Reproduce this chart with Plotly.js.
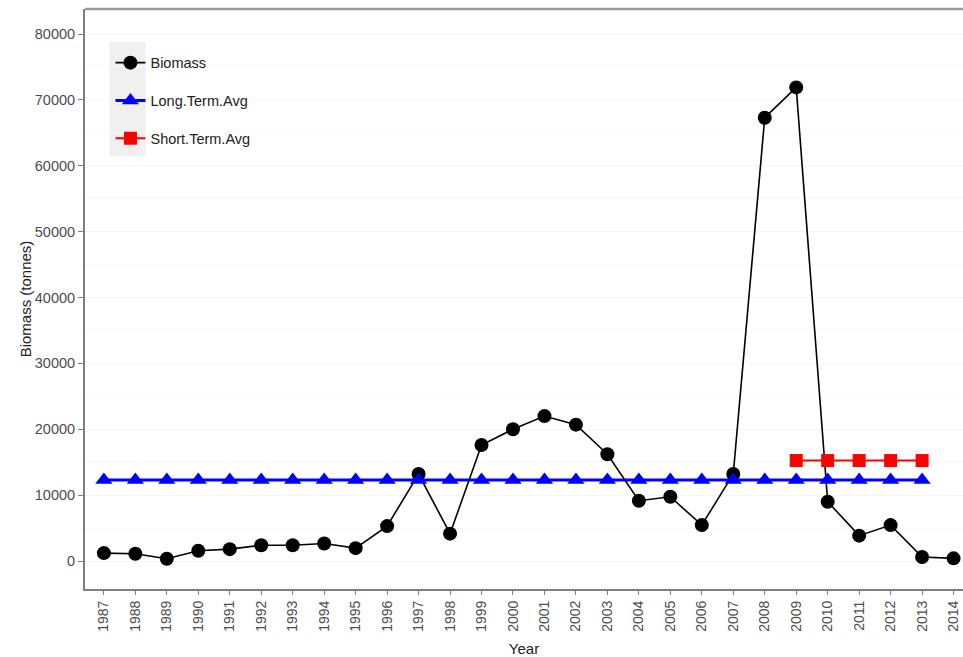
<!DOCTYPE html>
<html>
<head>
<meta charset="utf-8">
<script src="https://cdn.plot.ly/plotly-3.0.1.min.js"></script>
<style>html,body{margin:0;padding:0;background:#fff;}#chart{width:963px;height:657px;}</style>
</head>
<body>
<div id="chart"></div>
<script>
const years = [1987,1988,1989,1990,1991,1992,1993,1994,1995,1996,1997,1998,1999,2000,2001,2002,2003,2004,2005,2006,2007,2008,2009,2010,2011,2012,2013,2014];
const biomass = [1200,1100,350,1550,1800,2400,2400,2650,1950,5300,13200,4150,17600,20000,22000,20700,16200,9150,9750,5450,13200,67300,71900,9000,3850,5450,600,400];
const longYears = years.slice(0, 27);
const longAvg = longYears.map(() => 12300);
const shortYears = [2009,2010,2011,2012,2013];
const shortAvg = shortYears.map(() => 15250);
const yTicks = [0,10000,20000,30000,40000,50000,60000,70000,80000];
const yTickText = ['0','10000','20000','30000','40000','50000','60000','70000','80000'];

const traces = [
  {x: years, y: biomass, name: 'Biomass', mode: 'lines+markers', legendgroup: 'a',
   line: {color: '#000000', width: 1.6}, marker: {symbol: 'circle', size: 14, color: '#000000'}},
  {x: longYears, y: longAvg, name: 'Long.Term.Avg', mode: 'lines+markers', legendgroup: 'b',
   line: {color: '#0000ff', width: 3}, marker: {symbol: 'triangle-up', size: 15, color: '#0000ff'}},
  {x: shortYears, y: shortAvg, name: 'Short.Term.Avg', mode: 'lines+markers', legendgroup: 'c',
   line: {color: '#ff0000', width: 2}, marker: {symbol: 'square', size: 13, color: '#ff0000'}}
];

const layout = {
  width: 963, height: 657,
  margin: {l: 85, r: 0, t: 9, b: 68},
  paper_bgcolor: '#ffffff', plot_bgcolor: '#ffffff',
  font: {family: 'Liberation Sans, Arial, sans-serif', size: 14.5, color: '#4d4d4d'},
  showlegend: true,
  legend: {x: 0.029, y: 0.935, xanchor: 'left', yanchor: 'top', bgcolor: 'rgba(0,0,0,0)',
           traceorder: 'grouped', tracegroupgap: 16, font: {size: 14.5, color: '#222222'}},
  xaxis: {range: [1986.4, 2014.3], tickmode: 'array', tickvals: years, ticktext: years.map(String),
          tickangle: -90, ticks: 'outside', ticklen: 4, tickcolor: '#7f7f7f', showgrid: false,
          showline: true, linecolor: '#7f7f7f', linewidth: 2, zeroline: false,
          tickfont: {size: 14, color: '#4d4d4d'}, automargin: false,
          title: {text: 'Year', font: {size: 15, color: '#222222'}, standoff: 13}},
  yaxis: {range: [-4250, 83800], tickmode: 'array', tickvals: yTicks, ticktext: yTickText, ticks: 'outside', ticklen: 5,
          tickcolor: '#7f7f7f', showline: true, linecolor: '#7f7f7f', linewidth: 2, zeroline: false,
          showgrid: true, gridcolor: '#f6f6f6', gridwidth: 1,
          minor: {tickvals: [5000,15000,25000,35000,45000,55000,65000,75000], showgrid: true, gridcolor: '#f9f9f9', ticks: ''},
          tickfont: {size: 14.5, color: '#4d4d4d'}, automargin: false,
          title: {text: 'Biomass (tonnes)', font: {size: 15, color: '#222222'}, standoff: 0}},
  shapes: [
    {type: 'line', xref: 'paper', yref: 'paper', x0: 0, x1: 1, y0: 1, y1: 1, line: {color: '#9a9a9a', width: 2.5}},
    {type: 'rect', xref: 'paper', yref: 'paper', x0: 0.028, x1: 0.069, y0: 0.746, y1: 0.943,
     fillcolor: '#f0f0f0', line: {width: 0}, layer: 'below'}
  ]
};

Plotly.newPlot('chart', traces, layout, {displayModeBar: false, staticPlot: true});
</script>
</body>
</html>
